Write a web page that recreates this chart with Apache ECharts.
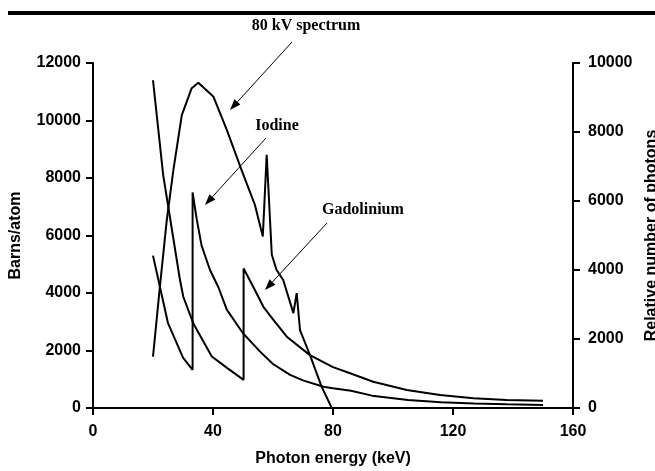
<!DOCTYPE html>
<html>
<head>
<meta charset="utf-8">
<script src="https://cdn.jsdelivr.net/npm/echarts@6/dist/echarts.min.js"></script>
<style>
html,body{margin:0;padding:0;background:#fff;}
#c{width:655px;height:471px;}
</style>
</head>
<body>
<div id="c"></div>
<script>
// Photon energy (keV) vs cross-section (barns/atom)
const iodine = [[20,5300],[25,2950],[30,1750],[33.2,1330],[33.2,7500],[34.6,6550],[36.2,5650],[39,4800],[41.8,4200],[44.6,3420],[50,2600],[55.7,1960],[60,1530],[65.7,1150],[70,960],[76.8,740],[80,690],[86,600],[93,430],[105,280],[116,200],[127,160],[138,130],[150,105]];
const gadolinium = [[20,11400],[23.4,8100],[25.7,6600],[29,4450],[30.1,3870],[33.4,2950],[39.6,1790],[45,1370],[50.2,980],[50.2,4850],[53.4,4220],[56.8,3520],[60,3080],[64.6,2480],[72.3,1840],[80,1420],[85.7,1210],[93.4,915],[104.6,626],[115.7,452],[126.8,337],[137.9,278],[150,254]];
// Photon energy (keV) vs relative number of photons
const spectrum80kV = [[20,1490],[22.3,3520],[24.6,5450],[26.8,6900],[29.6,8490],[32.9,9270],[35.1,9430],[40.1,9030],[44.6,8060],[49.5,6900],[54,5880],[56.6,4970],[57.9,7340],[59.6,4440],[61.2,4000],[63.4,3710],[66.8,2750],[67.9,3330],[69,2260],[72.3,1540],[76.2,620],[79.6,0]];
const xTicks = {min:0, max:160, interval:40};
const yLeftTicks = {min:0, max:12000, interval:2000};
const yRightTicks = {min:0, max:10000, interval:2000};

const chart = echarts.init(document.getElementById('c'), null, {renderer:'canvas'});
const sans = 'Liberation Sans, Arial, sans-serif';
const serif = 'Liberation Serif, Times New Roman, serif';
const plain = v => String(v);
const axisCommon = {
  axisLine:{show:true, lineStyle:{color:'#000', width:2}},
  axisTick:{show:true, inside:false, length:7, lineStyle:{color:'#000', width:2}},
  splitLine:{show:false},
  nameTextStyle:{color:'#000', fontFamily:sans, fontWeight:'bold', fontSize:16},
};
const labelStyle = m => ({color:'#000', fontFamily:sans, fontWeight:'bold', fontSize:16, margin:m, formatter:plain});
const lineSeries = (name, data, yi) => ({
  name, type:'line', data, yAxisIndex:yi, symbol:'none', smooth:false,
  lineStyle:{color:'#000', width:2}, z:3
});
function arrow(x1,y1,x2,y2){
  const ang = Math.atan2(y2-y1, x2-x1);
  const L = 11, W = 4;
  const bx = x2 - L*Math.cos(ang), by = y2 - L*Math.sin(ang);
  const px = -Math.sin(ang)*W, py = Math.cos(ang)*W;
  return [
    {type:'line', shape:{x1, y1, x2:bx, y2:by}, style:{stroke:'#000', lineWidth:1}},
    {type:'polygon', shape:{points:[[x2,y2],[bx+px,by+py],[bx-px,by-py]]}, style:{fill:'#000'}}
  ];
}
const annText = (text, x, y, align) => ({
  type:'text', x, y, style:{text, fill:'#000', font:'bold 16px ' + serif, textAlign:align||'center', textVerticalAlign:'middle'}
});
chart.setOption({
  animation:false,
  backgroundColor:'#fff',
  grid:{left:93, right:82, top:63, bottom:63, containLabel:false, outerBoundsMode:'none'},
  xAxis:Object.assign({}, axisCommon, {
    type:'value', min:xTicks.min, max:xTicks.max, interval:xTicks.interval,
    name:'Photon energy (keV)', nameLocation:'middle', nameGap:43,
    axisLabel:labelStyle(16)
  }),
  yAxis:[
    Object.assign({}, axisCommon, {
      type:'value', position:'left', min:yLeftTicks.min, max:yLeftTicks.max, interval:yLeftTicks.interval,
      name:'Barns/atom', nameLocation:'middle', nameGap:69,
      axisLabel:labelStyle(12)
    }),
    Object.assign({}, axisCommon, {
      type:'value', position:'right', min:yRightTicks.min, max:yRightTicks.max, interval:yRightTicks.interval,
      name:'Relative number of photons', nameLocation:'middle', nameGap:68,
      axisLabel:labelStyle(15)
    })
  ],
  series:[
    lineSeries('Iodine', iodine, 0),
    lineSeries('Gadolinium', gadolinium, 0),
    lineSeries('80 kV spectrum', spectrum80kV, 1)
  ],
  graphic:[
    {type:'rect', shape:{x:8, y:11, width:647, height:4}, style:{fill:'#000'}},
    annText('80 kV spectrum', 306, 26),
    ...arrow(292, 42, 230, 110),
    annText('Iodine', 277, 126),
    ...arrow(266, 138, 205, 205),
    annText('Gadolinium', 322, 210, 'left'),
    ...arrow(327, 223, 265, 290)
  ]
});
</script>
</body>
</html>
